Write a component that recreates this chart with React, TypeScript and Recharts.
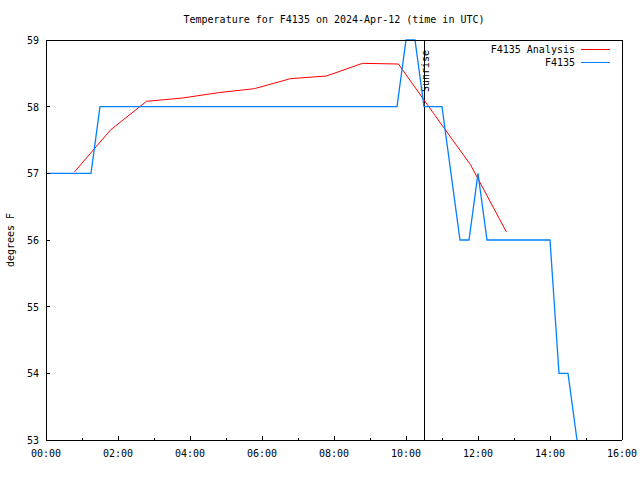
import { Legend, Line, LineChart, ReferenceLine, XAxis, YAxis } from "recharts";

// hourly analysis values (hours since 00:00 UTC)
const analysisHours = [0.79, 1.79, 2.79, 3.79, 4.79, 5.79, 6.79, 7.79, 8.79, 9.79, 10.79, 11.79, 12.79];
const analysisTemps = [57.02, 57.65, 58.08, 58.13, 58.21, 58.27, 58.42, 58.46, 58.65, 58.64, 57.88, 57.13, 56.12];

// station observations
const obsHours = [0, 1.25, 1.5, 9.75, 10, 10.25, 10.5, 11, 11.5, 11.75, 12, 12.25, 14, 14.25, 14.5, 14.75];
const obsTemps = [57, 57, 58, 58, 59, 59, 58, 58, 56, 56, 57, 56, 56, 54, 54, 53];

const hourTicks = [0, 1, 2, 3, 4, 5, 6, 7, 8, 9, 10, 11, 12, 13, 14, 15, 16];
const tempTicks = [53, 54, 55, 56, 57, 58, 59];
const sunriseHour = 10.5;

const TITLE = "Temperature for F4135 on 2024-Apr-12 (time in UTC)";
const Y_LABEL = "degrees F";

const SERIES = [
  { name: "F4135 Analysis", color: "#ff0000", width: 1 },
  { name: "F4135", color: "#0080ff", width: 1.3 },
];

const FONT = "'DejaVu Sans Mono', monospace";
const analysisData = analysisHours.map((h, i) => ({ hour: h, temp: analysisTemps[i] }));
const obsData = obsHours.map((h, i) => ({ hour: h, temp: obsTemps[i] }));

const fmtHour = (h: number) => `${String(h).padStart(2, "0")}:00`;

interface TickProps {
  x?: number;
  y?: number;
  payload?: { value: number };
}

function BottomTick({ x = 0, y = 0, payload }: TickProps) {
  const major = (payload?.value ?? 0) % 2 === 0;
  return (
    <g>
      <line x1={x} x2={x} y1={y} y2={y - (major ? 4 : 2)} stroke="#000" shapeRendering="crispEdges" />
      {major && (
        <text x={x} y={y + 17} textAnchor="middle" fontSize={10} fontFamily={FONT} fill="#000">
          {fmtHour(payload!.value)}
        </text>
      )}
    </g>
  );
}

function TopTick({ x = 0, y = 0, payload }: TickProps) {
  const major = (payload?.value ?? 0) % 2 === 0;
  return <line x1={x} x2={x} y1={y} y2={y + (major ? 4 : 2)} stroke="#000" shapeRendering="crispEdges" />;
}

function LeftTick({ x = 0, y = 0, payload }: TickProps) {
  return (
    <g>
      <line x1={x} x2={x + 4} y1={y} y2={y} stroke="#000" shapeRendering="crispEdges" />
      <text x={x - 7} y={y + 4} textAnchor="end" fontSize={10} fontFamily={FONT} fill="#000">
        {payload?.value}
      </text>
    </g>
  );
}

function RightTick({ x = 0, y = 0 }: TickProps) {
  return <line x1={x} x2={x - 4} y1={y} y2={y} stroke="#000" shapeRendering="crispEdges" />;
}

function SunriseLabel({ viewBox }: { viewBox?: { x: number; y: number } }) {
  const x = (viewBox?.x ?? 0) + 5;
  const y = 92;
  return (
    <text x={x} y={y} transform={`rotate(-90, ${x}, ${y})`} fontSize={10} fontFamily={FONT} fill="#000">
      Sunrise
    </text>
  );
}

function ChartLegend() {
  return (
    <div style={{ fontFamily: FONT, fontSize: 10, lineHeight: "13px", color: "#000" }}>
      {SERIES.map((s) => (
        <div key={s.name} style={{ display: "flex", justifyContent: "flex-end", alignItems: "center" }}>
          <span>{s.name}</span>
          <span style={{ display: "inline-block", width: 29, marginLeft: 6, borderTop: `1px solid ${s.color}` }} />
        </div>
      ))}
    </div>
  );
}

const axisLine = { stroke: "#000", shapeRendering: "crispEdges" };

export default function App() {
  return (
    <div style={{ position: "absolute", left: 0, top: 0, width: 640, height: 480, background: "#fff" }}>
      <LineChart width={640} height={480} margin={{ top: 39, right: 17, bottom: 10, left: 6 }}>
        <XAxis
          dataKey="hour"
          type="number"
          domain={[0, 16]}
          ticks={hourTicks}
          interval={0}
          height={30}
          tickSize={0}
          tickMargin={0}
          tickLine={false}
          axisLine={axisLine}
          tick={<BottomTick />}
        />
        <XAxis
          xAxisId="top"
          orientation="top"
          dataKey="hour"
          type="number"
          domain={[0, 16]}
          ticks={hourTicks}
          interval={0}
          height={1}
          tickSize={0}
          tickMargin={0}
          tickLine={false}
          axisLine={axisLine}
          tick={<TopTick />}
        />
        <YAxis
          type="number"
          domain={[53, 59]}
          ticks={tempTicks}
          interval={0}
          width={40}
          tickSize={0}
          tickMargin={0}
          tickLine={false}
          axisLine={axisLine}
          tick={<LeftTick />}
        />
        <YAxis
          yAxisId="right"
          orientation="right"
          type="number"
          domain={[53, 59]}
          ticks={tempTicks}
          interval={0}
          width={1}
          tickSize={0}
          tickMargin={0}
          tickLine={false}
          axisLine={axisLine}
          tick={<RightTick />}
        />
        <ReferenceLine x={sunriseHour} stroke="#000" shapeRendering="crispEdges" label={<SunriseLabel />} />
        <Line
          data={analysisData}
          dataKey="temp"
          name={SERIES[0].name}
          type="linear"
          stroke={SERIES[0].color}
          strokeWidth={SERIES[0].width}
          dot={false}
          activeDot={false}
          isAnimationActive={false}
        />
        <Line
          data={obsData}
          dataKey="temp"
          name={SERIES[1].name}
          type="linear"
          stroke={SERIES[1].color}
          strokeWidth={SERIES[1].width}
          dot={false}
          activeDot={false}
          isAnimationActive={false}
        />
        {/* top border drawn over the series, as gnuplot does */}
        <ReferenceLine y={59} stroke="#000" shapeRendering="crispEdges" />
        <Legend
          layout="horizontal"
          align="center"
          verticalAlign="middle"
          content={<ChartLegend />}
          wrapperStyle={{ left: 438, top: 43, width: 172 }}
        />
        <text x={334} y={23} textAnchor="middle" fontSize={10} fontFamily={FONT} fill="#000">
          {TITLE}
        </text>
        <text x={14} y={240} transform="rotate(-90, 14, 240)" textAnchor="middle" fontSize={10} fontFamily={FONT} fill="#000">
          {Y_LABEL}
        </text>
      </LineChart>
    </div>
  );
}
